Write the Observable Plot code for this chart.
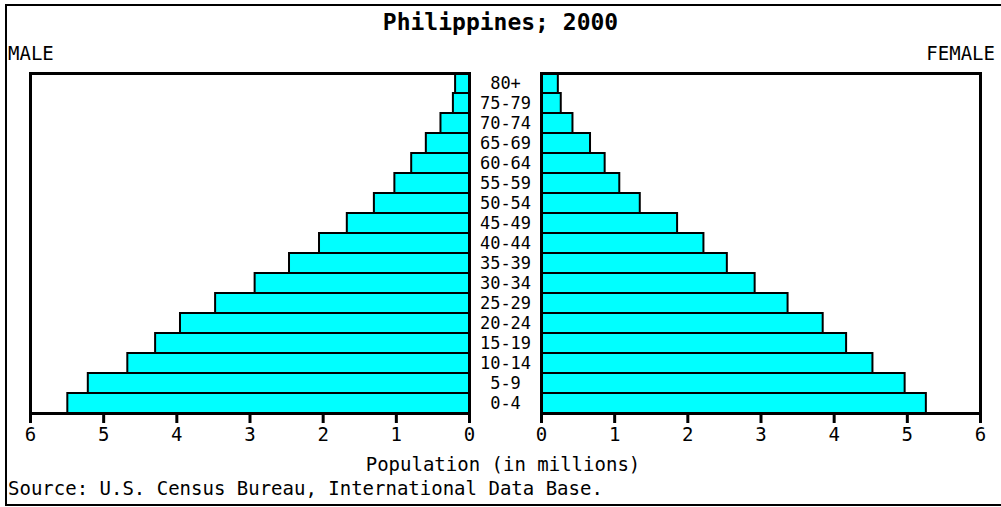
<!DOCTYPE html>
<html>
<head>
<meta charset="utf-8">
<script src="https://cdn.jsdelivr.net/npm/d3@7"></script>
<script src="https://cdn.jsdelivr.net/npm/@observablehq/plot@0.6"></script>
<style>
  html, body { margin: 0; padding: 0; background: white; }
  #wrap { position: relative; width: 1001px; height: 507px; overflow: hidden; font-family: "DejaVu Sans Mono", monospace; color: black; }
  .abs { position: absolute; white-space: nowrap; }
  #border { position: absolute; left: 5px; top: 4px; width: 1000px; height: 502px; border-top: 2px solid black; border-left: 2px solid black; border-bottom: 2px solid black; box-sizing: border-box; }
  #title { left: 0; width: 1001px; text-align: center; top: 11px; font-size: 23px; line-height: 23px; font-weight: bold; }
  #male { left: 8px; top: 44px; font-size: 19px; line-height: 19px; }
  #female { right: 6px; top: 44px; font-size: 19px; line-height: 19px; }
  #xlabel { left: 0; width: 1006px; text-align: center; top: 455px; font-size: 19px; line-height: 19px; }
  #source { left: 8px; top: 479px; font-size: 19px; line-height: 19px; }
  #left, #right { position: absolute; top: 60px; }
  #left { left: 0; }
  #right { left: 505px; }
  svg { overflow: visible; }
</style>
</head>
<body>
<div id="wrap">
  <div id="border"></div>
  <div class="abs" id="title"></div>
  <div class="abs" id="male"></div>
  <div class="abs" id="female"></div>
  <div id="left"></div>
  <div id="right"></div>
  <div class="abs" id="xlabel"></div>
  <div class="abs" id="source"></div>
</div>
<script>
const titleText = "Philippines; 2000";
const leftLabel = "MALE";
const rightLabel = "FEMALE";
const xTitle = "Population (in millions)";
const sourceText = "Source: U.S. Census Bureau, International Data Base.";

const ages = ["80+","75-79","70-74","65-69","60-64","55-59","50-54","45-49","40-44","35-39","30-34","25-29","20-24","15-19","10-14","5-9","0-4"];
const male = [0.19,0.22,0.39,0.59,0.79,1.02,1.30,1.67,2.05,2.46,2.93,3.47,3.95,4.29,4.67,5.21,5.49];
const female = [0.23,0.27,0.43,0.67,0.87,1.07,1.35,1.86,2.22,2.54,2.92,3.37,3.85,4.17,4.53,4.97,5.26];
const xTicks = [0,1,2,3,4,5,6];

document.getElementById("title").textContent = titleText;
document.getElementById("male").textContent = leftLabel;
document.getElementById("female").textContent = rightLabel;
document.getElementById("xlabel").textContent = xTitle;
document.getElementById("source").textContent = sourceText;

const maleData = ages.map((a, i) => ({age: a, value: male[i]}));
const femaleData = ages.map((a, i) => ({age: a, value: female[i]}));

const common = {
  height: 393,
  marginTop: 13,
  marginBottom: 40,
  style: {fontFamily: "DejaVu Sans Mono, monospace", fontSize: "19px", background: "transparent", overflow: "visible", color: "black"},
  y: {domain: ages, padding: 0, axis: null},
};

function panel(data, reverse, ml, mr, width, withAges) {
  const marks = [
    Plot.barX(data, {y: "age", x: "value", fill: "#00ffff", stroke: "black", strokeWidth: 2}),
    Plot.frame({stroke: "black", strokeWidth: 3}),
    Plot.axisX({ticks: xTicks, tickSize: 10, tickPadding: 4, strokeWidth: 3, tickFormat: d => String(d), fontSize: 19, label: null})
  ];
  if (withAges) {
    marks.push(Plot.text(ages, {y: d => d, text: d => d, frameAnchor: "right", dx: 36, textAnchor: "middle", fontSize: 17, fill: "black"}));
  }
  return Plot.plot({
    ...common,
    width,
    marginLeft: ml,
    marginRight: mr,
    x: {domain: [0, 6], reverse, label: null},
    marks
  });
}

document.getElementById("left").append(panel(maleData, true, 30, 36, 505, true));
document.getElementById("right").append(panel(femaleData, false, 36, 21, 496, false));
</script>
</body>
</html>
